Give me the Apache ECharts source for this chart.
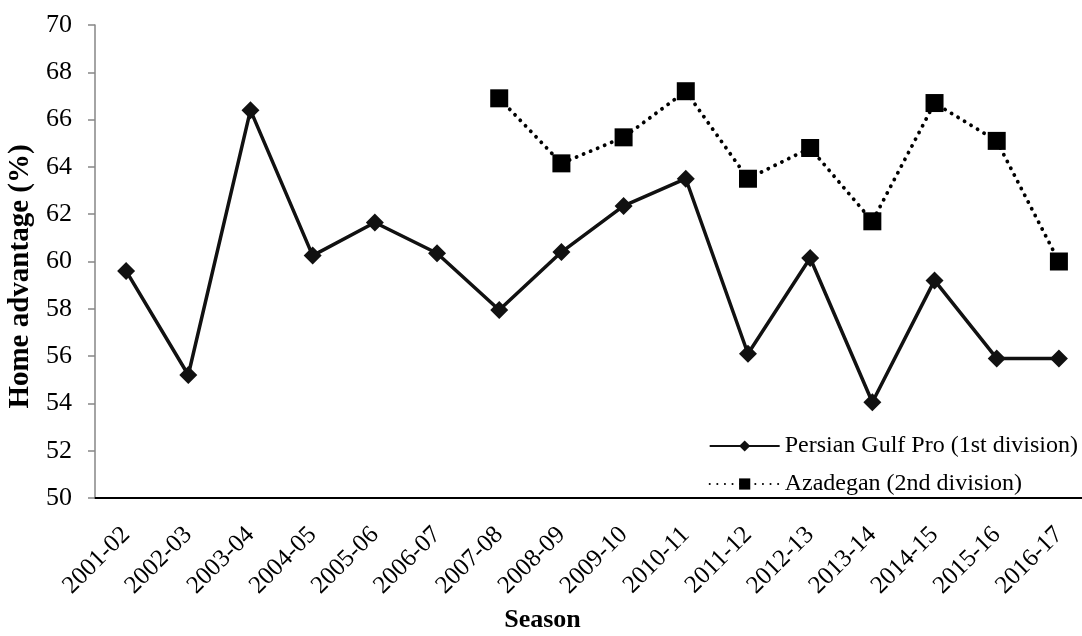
<!DOCTYPE html>
<html>
<head>
<meta charset="utf-8">
<script src="https://cdn.jsdelivr.net/npm/echarts@6/dist/echarts.min.js"></script>
<style>
  html, body { margin: 0; padding: 0; background: #fff; }
  #chart { width: 1082px; height: 636px; }
</style>
</head>
<body>
<div id="chart"></div>
<script>
var seasons = ['2001-02', '2002-03', '2003-04', '2004-05', '2005-06', '2006-07', '2007-08', '2008-09',
  '2009-10', '2010-11', '2011-12', '2012-13', '2013-14', '2014-15', '2015-16', '2016-17'];
// 1st division, all seasons
var persianGulf = [59.6, 55.2, 66.4, 60.25, 61.65, 60.35, 57.95, 60.4,
  62.35, 63.5, 56.1, 60.15, 54.05, 59.2, 55.9, 55.9];
// 2nd division, starts 2007-08
var azadegan = ['-', '-', '-', '-', '-', '-', 66.9, 64.15,
  65.25, 67.2, 63.5, 64.8, 61.7, 66.7, 65.1, 60.0];
var yTicks = { min: 50, max: 70, step: 2 };

var font = '"Liberation Serif", "Times New Roman", serif';
var ec = echarts.init(document.getElementById('chart'));
ec.setOption({
  animation: false,
  backgroundColor: '#fff',
  textStyle: { fontFamily: font, color: '#000' },
  grid: {
    left: 95,
    right: -8,
    top: 25,
    bottom: 138,
    outerBoundsMode: 'none'
  },
  legend: {
    orient: 'vertical',
    right: -1,
    top: 429,
    itemWidth: 70,
    itemHeight: 14,
    itemGap: 14,
    textStyle: { fontFamily: font, fontSize: 24, color: '#000' },
    data: ['Persian Gulf Pro (1st division)', 'Azadegan (2nd division)']
  },
  xAxis: {
    type: 'category',
    data: seasons,
    name: 'Season',
    nameLocation: 'middle',
    nameGap: 109,
    // title sits left of the axis centre in the original
    nameTextStyle: { fontFamily: font, fontSize: 26, fontWeight: 'bold', color: '#000', padding: [0, 100, 0, 0] },
    axisLine: { lineStyle: { color: '#000', width: 2 } },
    axisTick: { show: false },
    axisLabel: { rotate: 45, fontFamily: font, fontSize: 25, color: '#000', margin: 33, interval: 0 }
  },
  yAxis: {
    type: 'value',
    min: yTicks.min,
    max: yTicks.max,
    interval: yTicks.step,
    name: 'Home advantage (%)',
    nameLocation: 'middle',
    nameGap: 60,
    nameTextStyle: { fontFamily: font, fontSize: 29, fontWeight: 'bold', color: '#000', padding: [0, 30, 0, 0] },
    axisLine: { show: true, lineStyle: { color: '#868686', width: 1.5 } },
    axisTick: { show: true, length: 7, lineStyle: { color: '#868686', width: 1.5 } },
    splitLine: { show: false },
    axisLabel: { fontFamily: font, fontSize: 26, color: '#000', margin: 23 }
  },
  series: [{
    name: 'Persian Gulf Pro (1st division)',
    type: 'line',
    data: persianGulf,
    symbol: 'diamond',
    symbolSize: 18,
    itemStyle: { color: '#111' },
    lineStyle: { color: '#111', width: 3.5 }
  }, {
    name: 'Azadegan (2nd division)',
    type: 'line',
    data: azadegan,
    symbol: 'rect',
    symbolSize: 18,
    itemStyle: { color: '#000' },
    lineStyle: { color: '#000', width: 3.8, type: [0.1, 7.5], cap: 'round' }
  }]
});
</script>
</body>
</html>
